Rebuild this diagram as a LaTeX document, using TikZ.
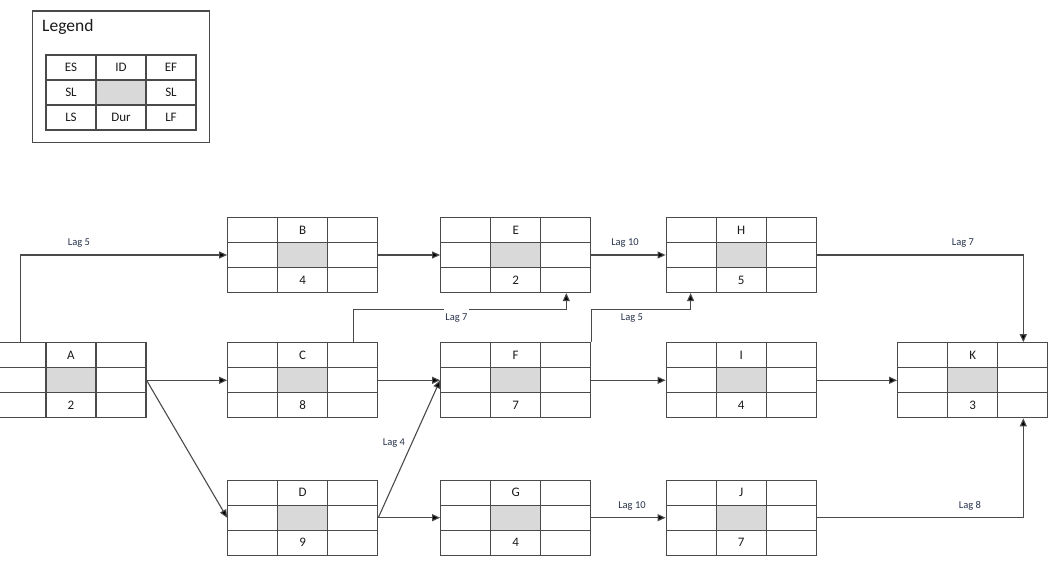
\documentclass[tikz,border=0pt]{standalone}
\usepackage{fontspec}
\setmainfont{Carlito}
\usetikzlibrary{arrows.meta,calc}
\definecolor{ln}{HTML}{4A4A4A}
\definecolor{cellgrey}{HTML}{D9D9D9}
\definecolor{txt}{HTML}{1A1A1A}
\definecolor{lagc}{HTML}{26324A}
\tikzset{
  grid/.style={draw=ln, line width=1.2pt},
  actbox/.style={draw=ln, line width=1.2pt, minimum width=150pt, minimum height=75pt, inner sep=0pt},
  celltxt/.style={font=\fontsize{13}{15}\selectfont, text=txt, inner sep=0pt},
  lag/.style={font=\fontsize{10.5}{12}\selectfont, text=lagc, inner sep=1pt},
  conn/.style={draw=ln, line width=1.1pt, -{Triangle[length=8pt,width=7pt,fill=black]}},
}
\newcommand{\activity}[5]{%
  \fill[cellgrey] (#2-25,#3-12.5) rectangle (#2+25,#3+12.5);
  \node[actbox] (#1) at (#2,#3) {};
  \draw[grid] (#2-25,#3-37.5) -- (#2-25,#3+37.5)
              (#2+25,#3-37.5) -- (#2+25,#3+37.5)
              (#2-75,#3-12.5) -- (#2+75,#3-12.5)
              (#2-75,#3+12.5) -- (#2+75,#3+12.5);
  \node[celltxt] (#1-id) at (#2,#3-25) {#4};
  \node[celltxt] (#1-dur) at (#2,#3+25) {#5};
}
\begin{document}
\begin{tikzpicture}[x=1pt,y=-1pt]
\useasboundingbox (0,0) rectangle (1057,572);
% Legend
\node[draw=ln, line width=1.1pt, minimum width=176.6pt, minimum height=131.7pt, inner sep=0pt] (legbox) at (121,76.85) {};
\node[anchor=base west, font=\fontsize{17.5}{20}\selectfont, text=txt, inner sep=0pt] (legtitle) at (42,32) {Legend};
\fill[cellgrey] (96,80) rectangle (146,105);
\node[actbox] (legtab) at (121,92.5) {};
\draw[grid] (96,55) -- (96,130) (146,55) -- (146,130) (46,80) -- (196,80) (46,105) -- (196,105);
\node[celltxt] (l-es) at (71,67.5) {ES};
\node[celltxt] (l-id) at (121,67.5) {ID};
\node[celltxt] (l-ef) at (171,67.5) {EF};
\node[celltxt] (l-sl1) at (71,92.5) {SL};
\node[celltxt] (l-sl2) at (171,92.5) {SL};
\node[celltxt] (l-ls) at (71,117.5) {LS};
\node[celltxt] (l-dur) at (121,117.5) {Dur};
\node[celltxt] (l-lf) at (171,117.5) {LF};
% Activities
\activity{A}{71}{380.3}{A}{2}
\activity{B}{302.7}{255}{B}{4}
\activity{C}{302.7}{380.3}{C}{8}
\activity{D}{302.7}{517.7}{D}{9}
\activity{E}{515.7}{255}{E}{2}
\activity{F}{515.7}{380.3}{F}{7}
\activity{G}{515.7}{517.7}{G}{4}
\activity{H}{741.2}{255}{H}{5}
\activity{I}{741.2}{380.3}{I}{4}
\activity{J}{741.2}{517.7}{J}{7}
\activity{K}{972.7}{380.3}{K}{3}
% Connectors
\draw[conn] ($(A.north west)+(25,0)$) |- (B.west);
\draw[conn] (A.east) -- (C.west);
\draw[conn] (A.east) -- (D.west);
\draw[conn] (B.east) -- (E.west);
\draw[conn] ($(C.north east)+(-25,0)$) -- ++(0,-32.7) -| ($(E.south east)+(-25,0)$);
\draw[conn] (C.east) -- (F.west);
\draw[conn] (D.east) -- (F.west);
\draw[conn] (D.east) -- (G.west);
\draw[conn] (E.east) -- (H.west);
\draw[conn] (F.north east) -- ++(0,-32.7) -| ($(H.south west)+(25,0)$);
\draw[conn] (F.east) -- (I.west);
\draw[conn] (G.east) -- (J.west);
\draw[conn] (H.east) -| ($(K.north east)+(-25,0)$);
\draw[conn] (I.east) -- (K.west);
\draw[conn] (J.east) -| ($(K.south east)+(-25,0)$);
% Lag labels
\node[lag] (lagAB) at (79,243) {Lag 5};
\node[lag, fill=white, minimum height=20pt, inner ysep=0pt] (lagCE) at (456.5,318.3) {Lag 7};
\node[lag] (lagFH) at (632,318.3) {Lag 5};
\node[lag] (lagEH) at (625,243) {Lag 10};
\node[lag] (lagHK) at (963,243) {Lag 7};
\node[lag] (lagDF) at (394,443.3) {Lag 4};
\node[lag] (lagGJ) at (632,506) {Lag 10};
\node[lag] (lagJK) at (970,506) {Lag 8};
\end{tikzpicture}
\end{document}
